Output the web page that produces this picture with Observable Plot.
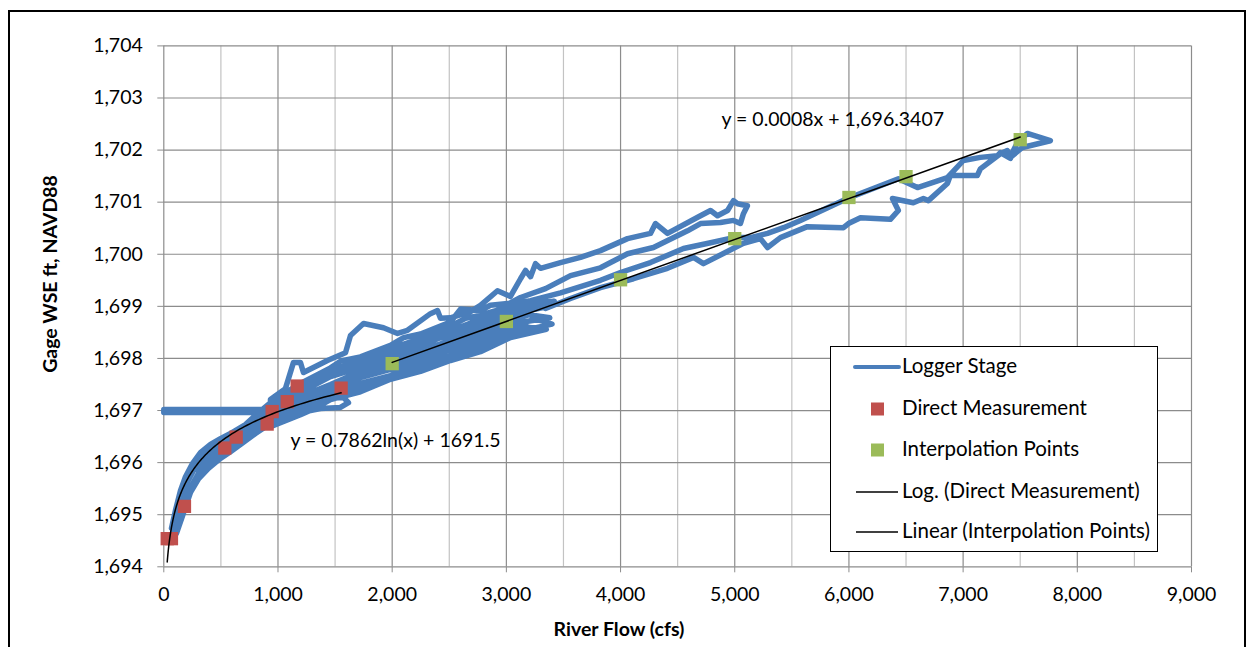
<!DOCTYPE html>
<html>
<head>
<meta charset="utf-8">
<script src="https://cdn.jsdelivr.net/npm/d3@7"></script>
<script src="https://cdn.jsdelivr.net/npm/@observablehq/plot@0.6"></script>
<style>
  body { margin: 0; background: white; }
  #wrap { position: relative; width: 1249px; height: 647px; overflow: hidden; background: white;
          font-family: Lato, "Open Sans", sans-serif; color: #000; }
  #chart { position: absolute; left: 0; top: 0; }
  #frame { position: absolute; left: 8px; top: 10px; width: 1238px; height: 700px;
           border: 2px solid #000; box-sizing: border-box; pointer-events: none; }
  .title { position: absolute; font-weight: 700; font-size: 19.5px; white-space: nowrap; }
  #legend { position: absolute; left: 830px; top: 346px; width: 328px; height: 206px;
            border: 1px solid #000; box-sizing: border-box; background: #fff; }
  .lrow { position: absolute; left: 0; font-size: 20.5px; white-space: nowrap; }
  .lrow svg { position: absolute; left: 0; top: 0; }
  .lrow span { position: absolute; left: 71px; top: -2px; transform: translateY(-50%); }
</style>
</head>
<body>
<div id="wrap">
  <div id="chart"></div>
  <div id="frame"></div>
  <div class="title" id="ytitle" style="left:49px;top:274px;transform:translate(-50%,-50%) rotate(-90deg);"></div>
  <div class="title" id="xtitle" style="left:619px;top:628px;transform:translate(-50%,-50%);"></div>
  <div id="legend"></div>
</div>
<script>
// ---------- data ----------
const xTicks = [0, 1000, 2000, 3000, 4000, 5000, 6000, 7000, 8000, 9000];
const xMinorTicks = [500, 1500, 2500, 3500, 4500, 5500, 6500, 7500, 8500];
const yTicks = [1694, 1695, 1696, 1697, 1698, 1699, 1700, 1701, 1702, 1703, 1704];

const xTitle = "River Flow (cfs)";
const yTitle = "Gage WSE ft, NAVD88";
const seriesNames = ["Logger Stage", "Direct Measurement", "Interpolation Points",
                     "Log. (Direct Measurement)", "Linear (Interpolation Points)"];
const eqLinearText = "y = 0.0008x + 1,696.3407";
const eqLogText = "y = 0.7862ln(x) + 1691.5";

// Direct Measurement (flow cfs, stage ft)
const directFlow  = [30, 67, 181, 534, 634, 905, 949, 1081, 1168, 1553];
const directStage = [1694.54, 1694.54, 1695.16, 1696.28, 1696.49, 1696.74, 1696.98, 1697.17, 1697.47, 1697.43];

// Interpolation Points
const interpFlow  = [2000, 3000, 4000, 5000, 6000, 6500, 7500];
const interpStage = [1697.90, 1698.71, 1699.51, 1700.30, 1701.09, 1701.49, 1702.20];

// Logger Stage trace [flow, stage] in recorded order
const loggerStage = [
  // flat stretch
  [864,1696.96],[0,1696.96],[0,1697.02],[864,1697.02],
  // low-flow limb
  [864,1696.81],[759,1696.65],[654,1696.50],[549,1696.37],[453,1696.23],[348,1696.04],[260,1695.85],[190,1695.56],[129,1695.04],[85,1694.70],
  [111,1694.64],[164,1694.98],[234,1695.43],[304,1695.69],[391,1695.89],[496,1696.08],[584,1696.21],[698,1696.39],[803,1696.56],[891,1696.69],[1004,1696.79],[1109,1696.88],[1241,1696.98],[1372,1697.04],
  [1547,1697.06],[1617,1697.15],[1574,1697.25],[1416,1697.23],[1284,1697.48],
  [1153,1697.36],[1022,1697.23],[917,1697.12],[820,1696.94],[715,1696.73],[601,1696.58],[496,1696.46],[409,1696.35],[321,1696.19],[251,1695.98],[190,1695.73],[146,1695.46],[102,1695.08],[67,1694.74],
  [76,1694.79],[120,1695.17],[190,1695.65],[321,1696.09],[453,1696.32],[584,1696.48],[715,1696.66],[846,1696.89],[978,1697.06],[1109,1697.21],
  [1109,1696.99],[978,1696.86],[846,1696.70],[715,1696.50],[584,1696.31],[453,1696.12],[321,1695.86],[190,1695.35],[138,1695.06],[94,1694.68],
  [85,1694.70],[129,1695.04],[190,1695.56],[260,1695.85],[348,1696.04],[453,1696.23],[549,1696.37],[654,1696.50],[759,1696.65],[864,1696.81],[978,1696.94],[1109,1697.10],[1241,1697.23],
  // main band
  [934,1696.69],[1197,1696.92],[1330,1697.05],[1460,1697.21],[1722,1697.36],[1985,1697.60],[2248,1697.75],[2510,1697.96],[2773,1698.13],[3036,1698.40],[3350,1698.56],
  [3180,1698.60],[3036,1698.44],[2773,1698.22],[2510,1698.01],[2248,1697.84],[1985,1697.64],[1722,1697.45],[1460,1697.26],[1197,1697.00],[934,1696.74],
  [934,1696.77],[1197,1697.08],[1460,1697.29],[1722,1697.52],[1985,1697.67],[2248,1697.92],[2510,1698.06],[2773,1698.31],[3036,1698.48],[3400,1698.66],
  [3250,1698.76],[3036,1698.57],[2773,1698.39],[2510,1698.17],[2248,1698.01],[1985,1697.79],[1722,1697.63],[1460,1697.40],[1197,1697.17],[934,1696.87],
  [934,1696.90],[1197,1697.21],[1460,1697.48],[1722,1697.68],[1985,1697.87],[2248,1698.08],[2510,1698.26],[2773,1698.48],[3036,1698.66],[3380,1698.78],
  [3200,1698.84],[3036,1698.73],[2773,1698.57],[2510,1698.34],[2248,1698.15],[1985,1697.94],[1722,1697.75],[1460,1697.50],[1197,1697.27],[934,1696.94],
  [934,1697.02],[1197,1697.35],[1460,1697.65],[1722,1697.83],[1985,1698.04],[2248,1698.23],[2397,1698.38],[2510,1698.44],[2773,1698.66],[3036,1698.84],[3330,1698.98],
  [3150,1698.95],[3036,1698.92],[2773,1698.75],[2510,1698.53],[2248,1698.31],[1985,1698.12],[1722,1697.90],[1460,1697.69],[1197,1697.41],[934,1697.07],
  [934,1697.12],[1197,1697.44],[1460,1697.77],[1722,1697.96],[1985,1698.19],[2248,1698.38],[2510,1698.62],[2642,1698.77],[2773,1698.83],[3036,1699.00],[3168,1699.05],[3420,1699.10],
  [3280,1699.00],[3036,1699.06],[2860,1699.02],[2773,1698.92],[2600,1698.95],[2510,1698.70],[2248,1698.47],[2100,1698.40],[1985,1698.25],[1722,1698.03],[1550,1697.95],[1460,1697.82],[1197,1697.52],[934,1697.16],
  [934,1697.21],[1065,1697.42],[1135,1697.92],[1197,1697.92],[1223,1697.73],[1433,1697.96],[1591,1698.11],[1635,1698.44],[1749,1698.67],[1924,1698.59],[2047,1698.48],[2134,1698.54],[2335,1698.86],[2397,1698.92],[2423,1698.77],[2510,1698.78],[2686,1698.90],[2773,1699.02],[2922,1699.30],[3036,1699.19],
  // upper strands
  [3124,1699.53],[3168,1699.69],[3212,1699.57],[3255,1699.82],[3299,1699.73],[3474,1699.84],[3649,1699.94],[3824,1700.07],[4061,1700.30],[4262,1700.40],[4306,1700.59],[4411,1700.40],[4700,1700.74],[4788,1700.84],[4849,1700.74],[4937,1700.84],[4989,1701.03],[5024,1700.97],[5111,1700.93],[5076,1700.78],[5050,1700.59],
  [4989,1700.65],[4875,1700.61],[4700,1700.59],[4586,1700.45],[4288,1700.13],[4061,1700.01],[3824,1699.74],[3562,1699.59],[3343,1699.34],[3124,1699.17],[2993,1699.02],
  // high-flow excursion
  [3212,1699.11],[3474,1699.26],[3824,1699.50],[3999,1699.65],[4262,1699.84],[4551,1700.11],[4788,1700.22],[4989,1700.32],[5138,1700.32],[5287,1700.40],[5427,1700.51],[5575,1700.65],[5987,1701.07],[6433,1701.45],[6600,1701.28],[6862,1701.47],[7002,1701.80],[7151,1701.86],[7299,1701.89],[7326,1701.95],[7414,1701.84],[7440,1701.99],[7475,1702.14],[7562,1702.32],[7764,1702.18],[7519,1702.05],[7414,1701.86],[7387,1701.99],[7326,1701.93],[7151,1701.64],[7124,1701.51],[7002,1701.51],[6888,1701.51],[6862,1701.36],[6696,1701.03],[6652,1701.07],[6564,1700.99],[6381,1701.07],[6433,1700.84],[6363,1700.67],[6101,1700.70],[5996,1700.59],[5952,1700.51],[5636,1700.53],[5400,1700.32],[5287,1700.13],[5225,1700.30],[5076,1700.21],[4726,1699.82],[4639,1699.94],[4411,1699.73],[4113,1699.53],[3824,1699.36],[3562,1699.15],[3343,1698.96]
];

// ---------- derived tables ----------
const direct = directFlow.map((x, i) => ({x, y: directStage[i]}));
const interp = interpFlow.map((x, i) => ({x, y: interpStage[i]}));
const logger = loggerStage.map(([x, y]) => ({x, y}));

function leastSquares(xs, ys) {
  const mx = d3.mean(xs), my = d3.mean(ys);
  let sxy = 0, sxx = 0;
  xs.forEach((x, i) => { sxy += (x - mx) * (ys[i] - my); sxx += (x - mx) ** 2; });
  const a = sxy / sxx;
  return {a, b: my - a * mx};
}
// Excel-style trendlines fitted to the plotted points
const logFit = leastSquares(directFlow.map(Math.log), directStage);
const [dMin, dMax] = d3.extent(directFlow);
const logCurve = d3.range(0, 121).map(i => {
  const x = Math.exp(Math.log(dMin) + (Math.log(dMax) - Math.log(dMin)) * i / 120);
  return {x, y: logFit.a * Math.log(x) + logFit.b};
});
const linFit = leastSquares(interpFlow, interpStage);
const linLine = d3.extent(interpFlow).map(x => ({x, y: linFit.a * x + linFit.b}));

// ---------- colours ----------
const BLUE = "#4a7ebb", RED = "#c0504d", GREEN = "#9bbb59";
const GRID = "#8c8c8c", GRID_MINOR = "#c3c3c3";

const chart = Plot.plot({
  width: 1249, height: 647,
  marginLeft: 163.3, marginRight: 58, marginTop: 45.4, marginBottom: 80.7,
  x: {domain: [0, 9000]},
  y: {domain: [1694, 1704]},
  style: {fontFamily: "Lato, 'Open Sans', sans-serif", fontSize: "19.5px", color: "#000", background: "transparent", overflow: "visible"},
  marks: [
    Plot.ruleX(xMinorTicks, {stroke: GRID_MINOR, strokeWidth: 1.2}),
    Plot.ruleX(xTicks, {stroke: GRID, strokeWidth: 1.2}),
    Plot.ruleY(yTicks, {stroke: GRID, strokeWidth: 1.2}),
    Plot.axisY({ticks: yTicks, tickFormat: d3.format(","), tickSize: 6, tickPadding: 15,
                stroke: GRID, fill: "#000", label: null}),
    Plot.axisX({ticks: xTicks, tickFormat: d3.format(","), tickSize: 6, tickPadding: 14,
                stroke: GRID, fill: "#000", label: null}),
    Plot.line(logger, {x: "x", y: "y", stroke: BLUE, strokeWidth: 5.5,
                       strokeLinejoin: "round", strokeLinecap: "round"}),
    Plot.dot(direct, {x: "x", y: "y", symbol: "square", r: 7.5, fill: RED}),
    Plot.dot(interp, {x: "x", y: "y", symbol: "square", r: 7.5, fill: GREEN}),
    Plot.line(logCurve, {x: "x", y: "y", stroke: "#000", strokeWidth: 1.5}),
    Plot.line(linLine, {x: "x", y: "y", stroke: "#000", strokeWidth: 1.5}),
    Plot.text([eqLinearText], {text: d => d, frameAnchor: "top-left", dx: 557.7, dy: 73.6,
                               textAnchor: "start", lineAnchor: "middle", fill: "#000"}),
    Plot.text([eqLogText], {text: d => d, frameAnchor: "top-left", dx: 126.7, dy: 394.6,
                            textAnchor: "start", lineAnchor: "middle", fill: "#000"})
  ]
});
document.getElementById("chart").appendChild(chart);
document.getElementById("xtitle").textContent = xTitle;
document.getElementById("ytitle").textContent = yTitle;

// ---------- legend ----------
const legend = document.getElementById("legend");
const rowY = [20, 62, 103, 145, 185];
const swatches = [
  `<line x1="24" x2="68" y1="10" y2="10" stroke="${BLUE}" stroke-width="4" stroke-linecap="round"/>`,
  `<rect x="40" y="3.5" width="13" height="13" fill="${RED}"/>`,
  `<rect x="40" y="3.5" width="13" height="13" fill="${GREEN}"/>`,
  `<line x1="25" x2="67" y1="10" y2="10" stroke="#000" stroke-width="1.5"/>`,
  `<line x1="25" x2="67" y1="10" y2="10" stroke="#000" stroke-width="1.5"/>`
];
seriesNames.forEach((name, i) => {
  const row = document.createElement("div");
  row.className = "lrow";
  row.style.top = rowY[i] + "px";
  row.innerHTML = `<svg width="72" height="20" style="top:-10px">${swatches[i]}</svg><span>${name}</span>`;
  legend.appendChild(row);
});
</script>
</body>
</html>
